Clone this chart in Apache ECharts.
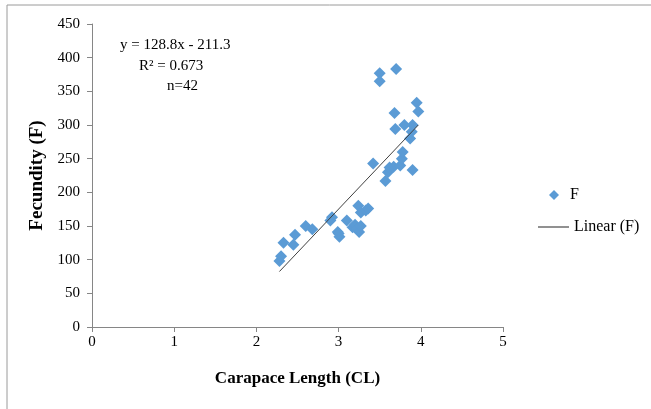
<!DOCTYPE html>
<html>
<head>
    <meta charset="UTF-8">
    <title>Fecundity vs Carapace Length</title>
    <script src="https://cdn.jsdelivr.net/npm/echarts@6/dist/echarts.min.js"></script>
    <style>
        html, body { margin: 0; padding: 0; background: #fff; }
        #main { width: 651px; height: 409px; }
    </style>
</head>
<body>
<div id="main"></div>
<script type="text/javascript">
    // carapace length (CL) and fecundity (F)
    var clValues = [2.28, 2.30, 2.33, 2.45, 2.47, 2.60, 2.68, 2.90, 2.92, 2.99,
        3.01, 3.00, 3.10, 3.17, 3.20, 3.22, 3.25, 3.27, 3.24, 3.27,
        3.33, 3.36, 3.42, 3.50, 3.50, 3.70, 3.57, 3.60, 3.62, 3.67,
        3.75, 3.77, 3.78, 3.90, 3.80, 3.87, 3.89, 3.90, 3.68, 3.69,
        3.95, 3.97];
    var fValues = [98, 105, 125, 122, 137, 150, 145, 158, 163, 141,
        134, 139, 158, 148, 152, 146, 141, 150, 180, 170,
        173, 176, 243, 377, 365, 383, 217, 230, 237, 238,
        240, 250, 260, 233, 300, 280, 290, 300, 318, 294,
        333, 320];
    var xTicks = [0, 1, 2, 3, 4, 5];
    var yTicks = [0, 50, 100, 150, 200, 250, 300, 350, 400, 450];
    var slope = 128.8;
    var intercept = -211.3;
    var notes = ['y = 128.8x - 211.3', 'R\u00b2 = 0.673', 'n=42'];

    var points = clValues.map(function (v, i) { return [v, fValues[i]]; });
    var xMin = Math.min.apply(null, clValues);
    var xMax = Math.max.apply(null, clValues);
    var trend = [[xMin, slope * xMin + intercept], [xMax, slope * xMax + intercept]];

    var font = 'Liberation Serif';
    var myChart = echarts.init(document.getElementById('main'));
    var option = {
        backgroundColor: '#fff',
        animation: false,
        textStyle: { fontFamily: font, color: '#000' },
        grid: { left: 92, right: 148, top: 24, bottom: 82 },
        xAxis: {
            type: 'value',
            min: xTicks[0],
            max: xTicks[xTicks.length - 1],
            interval: 1,
            name: 'Carapace Length (CL)',
            nameLocation: 'middle',
            nameGap: 43,
            nameTextStyle: { fontFamily: font, fontSize: 17, fontWeight: 'bold', color: '#000' },
            axisLine: { lineStyle: { color: '#868686' } },
            axisTick: { show: true, length: 5, lineStyle: { color: '#868686' } },
            axisLabel: { fontFamily: font, fontSize: 15, color: '#000', margin: 8 },
            splitLine: { show: false }
        },
        yAxis: {
            type: 'value',
            min: yTicks[0],
            max: yTicks[yTicks.length - 1],
            interval: 50,
            name: 'Fecundity (F)',
            nameLocation: 'middle',
            nameGap: 42,
            nameTextStyle: { fontFamily: font, fontSize: 19, fontWeight: 'bold', color: '#000' },
            axisLine: { show: true, lineStyle: { color: '#868686' } },
            axisTick: { show: true, length: 5, lineStyle: { color: '#868686' } },
            axisLabel: { fontFamily: font, fontSize: 15, color: '#000', margin: 12 },
            splitLine: { show: false }
        },
        legend: [
            {
                data: ['F'],
                left: 544,
                top: 182,
                icon: 'diamond',
                itemWidth: 10,
                itemHeight: 10,
                textStyle: { fontFamily: font, fontSize: 16, color: '#000', padding: [0, 0, 0, 6] }
            },
            {
                data: [{ name: 'Linear (F)', icon: 'rect' }],
                left: 533,
                top: 214,
                itemWidth: 31,
                itemHeight: 1,
                itemStyle: { color: '#222' },
                textStyle: { fontFamily: font, fontSize: 16, color: '#000' }
            }
        ],
        graphic: [
            {
                type: 'rect',
                shape: { x: 7, y: 5, width: 700, height: 500 },
                style: { fill: 'none', stroke: '#9a9a9a', lineWidth: 1 },
                silent: true
            },
            {
                type: 'text', left: 120, top: 38,
                style: { text: notes[0], font: '15px "Liberation Serif"', fill: '#000' }
            },
            {
                type: 'text', left: 139, top: 59,
                style: { text: notes[1], font: '15px "Liberation Serif"', fill: '#000' }
            },
            {
                type: 'text', left: 167, top: 79,
                style: { text: notes[2], font: '15px "Liberation Serif"', fill: '#000' }
            }
        ],
        series: [
            {
                name: 'F',
                type: 'scatter',
                symbol: 'diamond',
                symbolSize: 12,
                itemStyle: { color: '#5B9BD5', opacity: 1 },
                data: points
            },
            {
                name: 'Linear (F)',
                type: 'line',
                symbol: 'none',
                lineStyle: { color: '#404040', width: 1 },
                data: trend,
                z: 3
            }
        ]
    };
    myChart.setOption(option);
</script>
</body>
</html>
